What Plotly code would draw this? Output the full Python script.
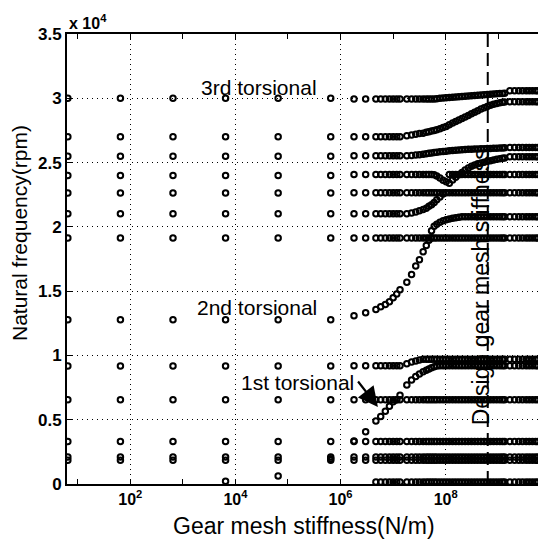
import plotly.graph_objects as go

# ---------------- data ----------------
# gear mesh stiffness samples (N/m)
sparse_k = [6.5, 65, 650, 6.5e3, 6.5e4, 6.5e5]
dense_k = [1.8e6, 3.0e6, 4.7e6, 5.8e6, 7.1e6, 8.5e6, 1.0e7, 1.17e7, 1.35e7,
           1.82e7, 2.24e7, 2.69e7, 3.16e7, 3.72e7, 4.27e7, 4.79e7, 5.37e7, 6.03e7, 6.76e7,
           7.76e7, 8.91e7, 1.02e8, 1.17e8, 1.35e8, 1.55e8, 1.78e8, 2.04e8, 2.34e8, 2.69e8,
           3.09e8, 3.55e8, 4.07e8, 4.68e8, 5.37e8, 6.17e8, 7.08e8, 8.13e8, 9.33e8, 1.07e9,
           1.2e9, 1.32e9, 1.66e9, 2.04e9, 2.45e9, 2.88e9, 3.39e9, 3.89e9, 4.47e9, 5.13e9, 5.75e9]

# natural frequencies (rpm) at the sparse stiffness samples
sparse_levels = [30000, 27000, 25500, 24000, 22630, 21020, 19130, 12780, 9180, 6560, 3300, 2100, 1850]
sparse_lowest = [None, None, None, 210, 622, 1970]

# flat rows in the dense region: level (rpm), first and last dense sample index
flat_level = [150, 1850, 2100, 3300, 6560, 9200, 9200, 9700, 19130, 20790, 21020, 22650,
              24080, 24080, 25530, 25450, 26180, 27010, 29730, 29950, 30590]
flat_first = [2, 0, 0, 0, 0, 0, 19, 13, 0, 26, 0, 0, 0, 22, 0, 41, 41, 0, 41, 0, 41]
flat_last = [49, 49, 49, 49, 49, 8, 49, 49, 49, 49, 9, 49, 16, 49, 9, 49, 49, 8, 49, 17, 49]

# curved branches in the dense region: first dense sample index, frequencies (rpm)
branch_start = [0, 8, 9, 0, 16, 10, 17, 10, 9, 18]
branch_freq = [
    [3344, 4067, 4900, 5250, 5650, 6050, 6400, 6555],
    [6900, 7700, 8090, 8370, 8560, 8733, 8850, 8950, 9040, 9120, 9176],
    [9350, 9480, 9570, 9640],
    [13090, 13320, 13580, 13780, 13970, 14180, 14480, 14780, 15100, 15700, 16300, 16950,
     17450, 18060, 18550, 18950, 19150],
    [19700, 20050, 20200, 20350, 20470, 20560, 20620, 20670, 20710, 20740],
    [21080, 21150, 21250, 21350, 21450, 21600, 21720, 21900, 22100, 22330, 22550],
    [24050, 23950, 23800, 23620, 23500, 23400, 23650, 23850, 24050, 24220, 24420, 24580,
     24720, 24820, 24900, 24970, 25030, 25100, 25150, 25200, 25250, 25300, 25330, 25360],
    [25550, 25580, 25610, 25650, 25690, 25720, 25750, 25780, 25810, 25840, 25870, 25890,
     25910, 25930, 25950, 25970, 25990, 26010, 26030, 26040, 26050, 26060, 26070, 26080,
     26090, 26100, 26110, 26120, 26130, 26140, 26150],
    [27085, 27150, 27210, 27260, 27290, 27350, 27400, 27450, 27500, 27550, 27640, 27720,
     27800, 27950, 28080, 28200, 28320, 28430, 28540, 28660, 28790, 28910, 29030, 29160,
     29270, 29360, 29450, 29530, 29600, 29650, 29690, 29720],
    [29970, 30000, 30020, 30040, 30060, 30080, 30100, 30120, 30140, 30160, 30180, 30200,
     30220, 30240, 30260, 30280, 30300, 30320, 30340, 30360, 30370, 30380, 30390],
]

design_k = 6.3e8
x_tickvals = [1e2, 1e4, 1e6, 1e8]
x_ticktext = ["<b>10<sup>2</sup></b>", "<b>10<sup>4</sup></b>", "<b>10<sup>6</sup></b>", "<b>10<sup>8</sup></b>"]
x_minorvals = [1e1, 1e3, 1e5, 1e7, 1e9]
y_tickvals = [0, 5000, 10000, 15000, 20000, 25000, 30000, 35000]
y_ticktext = ["<b>0</b>", "<b>0.5</b>", "<b>1</b>", "<b>1.5</b>", "<b>2</b>", "<b>2.5</b>", "<b>3</b>", "<b>3.5</b>"]

# ---------------- assemble points ----------------
xs, ys = [], []
for lev in sparse_levels:
    for k in sparse_k:
        xs.append(k); ys.append(lev)
for k, f in zip(sparse_k, sparse_lowest):
    if f is not None:
        xs.append(k); ys.append(f)
for lev, a, b in zip(flat_level, flat_first, flat_last):
    for i in range(a, b + 1):
        xs.append(dense_k[i]); ys.append(lev)
for s, vals in zip(branch_start, branch_freq):
    for j, f in enumerate(vals):
        xs.append(dense_k[s + j]); ys.append(f)

fig = go.Figure()
fig.add_trace(go.Scatter(
    x=xs, y=ys, mode="markers",
    marker=dict(symbol="circle-open", size=5.5, color="black", line=dict(width=2, color="black")),
    showlegend=False, hoverinfo="skip"))

FONT = "Liberation Sans, Arial, sans-serif"
L, R, T, B = 67, 0, 34, 60
W, H = 538, 544
pw, ph = W - L - R, H - T - B

def px(x):
    return (x - L) / pw

def py(y):
    return (H - B - y) / ph

fig.update_layout(
    width=W, height=H,
    margin=dict(l=L, r=R, t=T, b=B, pad=0),
    paper_bgcolor="white", plot_bgcolor="white",
    font=dict(family=FONT, color="black"),
    xaxis=dict(type="log", range=[0.797, 9.755],
               showline=True, linecolor="black", linewidth=1.5, mirror="ticks",
               ticks="inside", ticklen=5, tickwidth=1, tickcolor="black",
               tickmode="array", tickvals=x_tickvals, ticktext=x_ticktext,
               tickfont=dict(size=16, family=FONT),
               showgrid=True, gridcolor="black", gridwidth=1, griddash="1px,4px",
               zeroline=False,
               minor=dict(tickmode="array", tickvals=x_minorvals, ticks="inside",
                          ticklen=5, tickcolor="black", showgrid=False)),
    yaxis=dict(range=[0, 35000],
               showline=True, linecolor="black", linewidth=2,
               ticks="inside", ticklen=5, tickwidth=1, tickcolor="black",
               tickmode="array", tickvals=y_tickvals, ticktext=y_ticktext,
               tickfont=dict(size=17, family=FONT),
               showgrid=True, gridcolor="black", gridwidth=1, griddash="1px,4px",
               zeroline=False),
)

fig.add_shape(type="line", xref="x", yref="y", x0=design_k, x1=design_k, y0=0, y1=35000,
              line=dict(color="black", width=2, dash="13px,6px"))

ann_font = dict(family=FONT, size=21, color="black")
fig.add_annotation(x=4.447, y=30870, xref="x", yref="y", text="3rd torsional",
                   showarrow=False, font=ann_font)
fig.add_annotation(x=4.417, y=13764, xref="x", yref="y", text="2nd torsional",
                   showarrow=False, font=ann_font)
fig.add_annotation(x=5.18, y=7931, xref="x", yref="y", text="1st torsional",
                   showarrow=False, font=ann_font)
fig.add_annotation(x=6.71, y=5990, xref="x", yref="y", text="", showarrow=True,
                   ax=-21, ay=-27, arrowhead=2, arrowsize=1.8, arrowwidth=2.2,
                   arrowcolor="black")
fig.add_annotation(x=8.667, y=15358, xref="x", yref="y", text="Design gear mesh stiffness",
                   textangle=-90, showarrow=False, font=dict(family=FONT, size=23, color="black"))

fig.add_annotation(x=px(67), y=py(22), xref="paper", yref="paper", xanchor="left",
                   yanchor="middle", text="<b>x 10<sup>4</sup></b>", showarrow=False,
                   font=dict(family=FONT, size=16, color="black"))
fig.add_annotation(x=px(20), y=py(233), xref="paper", yref="paper", xanchor="center",
                   yanchor="middle", text="Natural frequency(rpm)",
                   textangle=-90, showarrow=False, font=dict(family=FONT, size=21, color="black"))
fig.add_annotation(x=px(304), y=py(526), xref="paper", yref="paper", xanchor="center",
                   yanchor="middle", text="Gear mesh stiffness(N/m)",
                   showarrow=False, font=dict(family=FONT, size=23, color="black"))

fig.write_html("out.html", config={"displayModeBar": False},
               post_script="document.body.style.margin='0';document.body.style.overflow='hidden';")
